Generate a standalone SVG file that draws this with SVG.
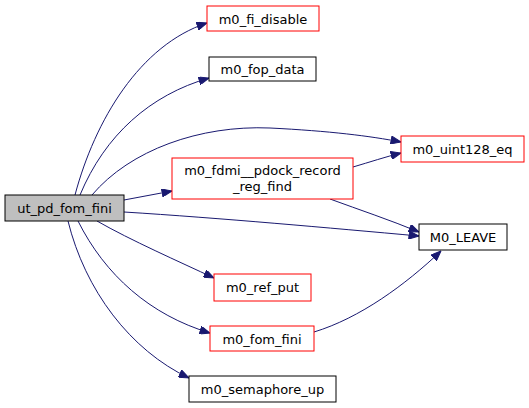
<svg xmlns="http://www.w3.org/2000/svg" width="529" height="408" viewBox="0 0 529 408">
<style>
.n rect{fill:#fff;stroke:#000;stroke-width:1}
.n.r rect{stroke:#ff0000}
.n.root rect{fill:#bfbfbf}
text{font-family:"DejaVu Sans",sans-serif;font-size:13px;text-anchor:middle;fill:#000}
.e path{fill:none;stroke:#191970;stroke-width:1;marker-end:url(#a)}
</style>
<defs>
<marker id="a" viewBox="0 0 10 8" refX="10" refY="4" markerWidth="11" markerHeight="8" markerUnits="userSpaceOnUse" orient="auto">
<path d="M0,0 L10,4 L0,8 z" fill="#191970" stroke="#191970"/>
</marker>
</defs>
<rect width="529" height="408" fill="#fff"/>
<g class="e" id="edges">
<path d="M75,195 C95,120 140,45 207,23"/>
<path d="M80,195 C105,135 150,95 209,78"/>
<path d="M92,195 C130,150 200,125 270,128 C330,131 370,136 401,142"/>
<path d="M124,200 L172,191"/>
<path d="M124,212 C220,218 330,228 419,236"/>
<path d="M97,221 C130,240 180,262 214,278"/>
<path d="M78,221 C105,275 150,315 210,333"/>
<path d="M68,221 C85,290 130,350 189,378"/>
<path d="M353,167 C370,162 385,157 401,153"/>
<path d="M330,199 C360,210 390,220 419,232"/>
<path d="M314,332 C360,318 405,285 441,251"/>
</g>
<g class="n root" id="ut_pd_fom_fini"><rect x="5" y="195" width="119" height="26"/><text x="64.5" y="212.5">ut_pd_fom_fini</text></g>
<g class="n r" id="m0_fi_disable"><rect x="207" y="6" width="112" height="25"/><text x="263" y="23.5">m0_fi_disable</text></g>
<g class="n" id="m0_fop_data"><rect x="209" y="57" width="107" height="24"/><text x="262.5" y="74">m0_fop_data</text></g>
<g class="n r" id="m0_fdmi__pdock_record_reg_find"><rect x="172" y="158" width="181" height="41"/><text x="262.5" y="175">m0_fdmi__pdock_record</text><text x="262.5" y="191">_reg_find</text></g>
<g class="n r" id="m0_uint128_eq"><rect x="401" y="136" width="123" height="26"/><text x="462.5" y="153.5">m0_uint128_eq</text></g>
<g class="n" id="M0_LEAVE"><rect x="419" y="224" width="88" height="26"/><text x="463" y="241.5">M0_LEAVE</text></g>
<g class="n r" id="m0_ref_put"><rect x="214" y="274" width="97" height="27"/><text x="262.5" y="292">m0_ref_put</text></g>
<g class="n r" id="m0_fom_fini"><rect x="210" y="326" width="104" height="25"/><text x="262" y="343.5">m0_fom_fini</text></g>
<g class="n" id="m0_semaphore_up"><rect x="189" y="376" width="147" height="26"/><text x="262.5" y="393.5">m0_semaphore_up</text></g>
</svg>
